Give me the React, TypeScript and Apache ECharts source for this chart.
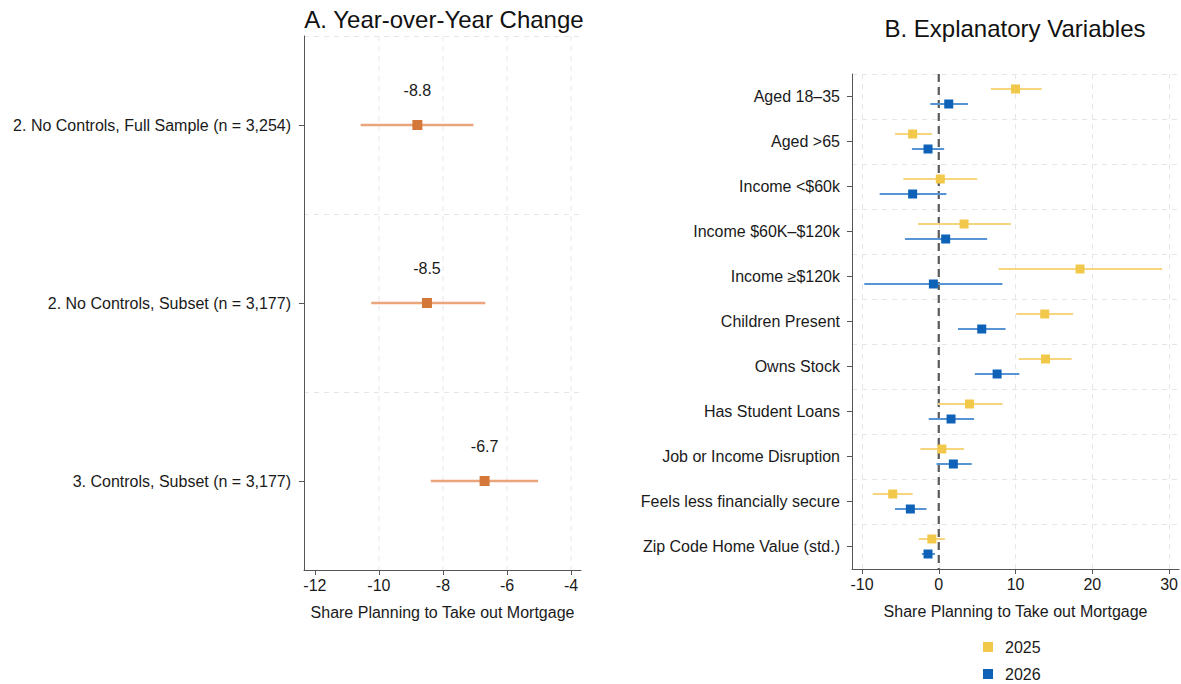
import React, { useEffect, useRef } from "react";
import * as echarts from "echarts";

const titleA = "A. Year-over-Year Change";
const titleB = "B. Explanatory Variables";
const xName = "Share Planning to Take out Mortgage";

const specsA = [
  "2. No Controls, Full Sample (n = 3,254)",
  "2. No Controls, Subset (n = 3,177)",
  "3. Controls, Subset (n = 3,177)",
];
const estA = [-8.8, -8.5, -6.7];
const loA = [-10.57, -10.24, -8.38];
const hiA = [-7.05, -6.68, -5.03];
const ticksA = [-12, -10, -8, -6, -4];
const gridLinesA = [-10, -8, -6, -4];

const varsB = [
  "Aged 18–35",
  "Aged >65",
  "Income <$60k",
  "Income $60K–$120k",
  "Income ≥$120k",
  "Children Present",
  "Owns Stock",
  "Has Student Loans",
  "Job or Income Disruption",
  "Feels less financially secure",
  "Zip Code Home Value (std.)",
];
const est2025 = [10.0, -3.4, 0.2, 3.3, 18.4, 13.8, 13.9, 4.0, 0.4, -6.0, -0.9];
const lo2025 = [6.8, -5.7, -4.6, -2.7, 7.8, 10.1, 10.4, -0.1, -2.4, -8.6, -2.6];
const hi2025 = [13.4, -0.9, 5.0, 9.4, 29.1, 17.5, 17.3, 8.3, 3.3, -3.4, 0.8];
const est2026 = [1.3, -1.4, -3.4, 0.9, -0.7, 5.6, 7.6, 1.6, 1.9, -3.7, -1.4];
const lo2026 = [-1.1, -3.5, -7.7, -4.4, -9.7, 2.5, 4.7, -1.3, -0.3, -5.7, -2.2];
const hi2026 = [3.8, 0.7, 1.0, 6.3, 8.3, 8.7, 10.5, 4.6, 4.3, -1.6, -0.5];
const ticksB = [-10, 0, 10, 20, 30];
const years = ["2025", "2026"];
const refLineB = [0];

const FONT = '"Liberation Sans", Arial, sans-serif';
const AXIS_COLOR = "#555";
const GRID_COLOR = "#e6e6e6";
const TEXT_COLOR = "#1a1a1a";
const FS = 16;

function makeRender(opts: {
  line: string;
  fill: string;
  size: number;
  lw: number;
  dy: number;
  label?: boolean;
}) {
  return (params: any, api: any) => {
    const cat = api.value(3);
    const pE = api.coord([api.value(0), cat]);
    const pL = api.coord([api.value(1), cat]);
    const pH = api.coord([api.value(2), cat]);
    const y = pE[1] + opts.dy;
    const s = opts.size;
    const children: any[] = [
      {
        type: "line",
        shape: { x1: pL[0], y1: y, x2: pH[0], y2: y },
        style: { stroke: opts.line, lineWidth: opts.lw },
      },
      {
        type: "rect",
        shape: { x: pE[0] - s / 2, y: y - s / 2, width: s, height: s },
        style: { fill: opts.fill },
      },
    ];
    if (opts.label) {
      children.push({
        type: "text",
        x: pE[0],
        y: y - 35,
        style: {
          text: Number(api.value(0)).toFixed(1),
          fill: TEXT_COLOR,
          font: `${FS}px ${FONT}`,
          align: "center",
          verticalAlign: "middle",
        },
      });
    }
    return { type: "group", children };
  };
}

function vLineRender(stroke: string, lineWidth: number, lineDash: number[]) {
  return (params: any, api: any) => {
    const cs = params.coordSys;
    const x = api.coord([api.value(0), 0])[0];
    return {
      type: "line",
      shape: { x1: x, y1: cs.y, x2: x, y2: cs.y + cs.height },
      style: { stroke, lineWidth, lineDash },
    };
  };
}

function buildOption(): any {
  const dashed = { type: [5, 5] as any, color: GRID_COLOR, width: 1 };
  const xAxisCommon = (ticks: number[], showSplit: boolean) => ({
    type: "value",
    axisLine: { show: true, onZero: false, lineStyle: { color: AXIS_COLOR } },
    axisTick: { show: true, length: 5, customValues: ticks, lineStyle: { color: AXIS_COLOR } },
    axisLabel: { customValues: ticks, fontSize: FS, color: TEXT_COLOR, margin: 7 },
    splitLine: { show: showSplit, lineStyle: dashed },
    name: xName,
    nameLocation: "middle",
    nameGap: 34,
    nameTextStyle: { fontSize: FS, color: TEXT_COLOR },
  });
  const yAxisCommon = (cats: string[], margin: number) => ({
    type: "category",
    data: cats,
    inverse: true,
    axisLine: { show: true, onZero: false, lineStyle: { color: AXIS_COLOR } },
    axisTick: { show: true, alignWithLabel: true, length: 5, interval: 0, lineStyle: { color: AXIS_COLOR } },
    axisLabel: { interval: 0, fontSize: FS, color: TEXT_COLOR, margin },
    splitLine: { show: true, interval: 0, lineStyle: dashed },
  });

  return {
    animation: false,
    backgroundColor: "#fff",
    textStyle: { fontFamily: FONT, color: TEXT_COLOR },
    graphic: [
      {
        type: "text",
        x: 444,
        y: 19,
        style: { text: titleA, font: `24px ${FONT}`, fill: "#111", align: "center", verticalAlign: "middle" },
      },
      {
        type: "text",
        x: 1015,
        y: 28,
        style: { text: titleB, font: `24px ${FONT}`, fill: "#111", align: "center", verticalAlign: "middle" },
      },
    ],
    legend: {
      orient: "vertical",
      left: 983,
      top: 639,
      padding: 0,
      itemWidth: 10,
      itemHeight: 10,
      itemGap: 11,
      textStyle: { fontSize: FS, lineHeight: 16, color: TEXT_COLOR, fontFamily: FONT, padding: [0, 0, 0, 7] },
      data: years.map((y) => ({ name: y, icon: "rect" })),
    },
    grid: [
      { left: 304, top: 36, width: 277, height: 534 },
      { left: 852, top: 74, width: 328, height: 495 },
    ],
    xAxis: [
      { gridIndex: 0, min: -12.34, max: -3.69, ...xAxisCommon(ticksA, false) },
      { gridIndex: 1, min: -11.3, max: 31.3, ...xAxisCommon(ticksB, true) },
    ],
    yAxis: [
      { gridIndex: 0, ...yAxisCommon(specsA, 13) },
      { gridIndex: 1, ...yAxisCommon(varsB, 12) },
    ],
    series: [
      {
        type: "custom",
        name: "gridA",
        xAxisIndex: 0,
        yAxisIndex: 0,
        silent: true,
        encode: { x: 0, y: 1 },
        data: gridLinesA.map((v) => [v, 0]),
        renderItem: vLineRender(GRID_COLOR, 1, [5, 5]),
        z: 1,
      },
      {
        type: "custom",
        name: "Year-over-Year",
        xAxisIndex: 0,
        yAxisIndex: 0,
        encode: { x: [0, 1, 2], y: 3 },
        data: estA.map((e, i) => [e, loA[i], hiA[i], i]),
        renderItem: makeRender({ line: "#eaa57c", fill: "#d4783a", size: 10, lw: 2.5, dy: 0, label: true }),
        z: 5,
      },
      {
        type: "custom",
        name: "zero",
        xAxisIndex: 1,
        yAxisIndex: 1,
        silent: true,
        encode: { x: 0, y: 1 },
        data: refLineB.map((v) => [v, 0]),
        renderItem: vLineRender("#5a5a5a", 2.2, [8, 5]),
        z: 3,
      },
      {
        type: "custom",
        name: "2025",
        xAxisIndex: 1,
        yAxisIndex: 1,
        itemStyle: { color: "#f2c84b" },
        encode: { x: [0, 1, 2], y: 3 },
        data: est2025.map((e, i) => [e, lo2025[i], hi2025[i], i]),
        renderItem: makeRender({ line: "#f5d67f", fill: "#f2c84b", size: 9, lw: 2, dy: -7.5 }),
        z: 5,
      },
      {
        type: "custom",
        name: "2026",
        xAxisIndex: 1,
        yAxisIndex: 1,
        itemStyle: { color: "#0d62b8" },
        encode: { x: [0, 1, 2], y: 3 },
        data: est2026.map((e, i) => [e, lo2026[i], hi2026[i], i]),
        renderItem: makeRender({ line: "#5794d4", fill: "#0d62b8", size: 9, lw: 2, dy: 7.5 }),
        z: 6,
      },
    ],
  };
}

export default function App() {
  const ref = useRef<HTMLDivElement>(null);

  useEffect(() => {
    if (!ref.current) return;
    const chart = echarts.init(ref.current, null, { renderer: "svg" });
    chart.setOption(buildOption());
    return () => chart.dispose();
  }, []);

  return (
    <div
      ref={ref}
      style={{ position: "fixed", left: 0, top: 0, width: 1181, height: 684, background: "#fff" }}
    />
  );
}
